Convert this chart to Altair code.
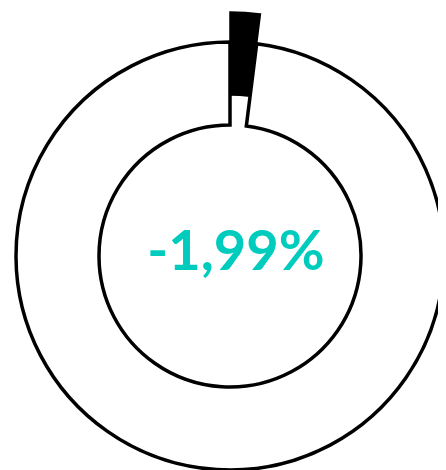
import altair as alt
import pandas as pd

# Data
labels = ["Variación", "Resto"]
values = [1.99, 98.01]
order_idx = [0, 1]
center_text = ["-1,99%"]

df = pd.DataFrame({"label": labels, "value": values, "idx": order_idx})
df_text = pd.DataFrame({"txt": center_text})

base = alt.Chart(df).encode(
    theta=alt.Theta("value:Q", stack=True),
    order=alt.Order("idx:Q"),
)

fill_enc = alt.Fill("label:N", scale=alt.Scale(domain=labels, range=["black", "white"]), legend=None)

white_slice = base.mark_arc(
    radius=214, radius2=131, stroke="black", strokeWidth=3.5, strokeJoin="miter"
).encode(
    fill=fill_enc,
    opacity=alt.Opacity("label:N", scale=alt.Scale(domain=labels, range=[0, 1]), legend=None),
)

black_slice = base.mark_arc(
    radius=244, radius2=161, stroke="black", strokeWidth=1.5, strokeJoin="miter"
).encode(
    fill=fill_enc,
    opacity=alt.Opacity("label:N", scale=alt.Scale(domain=labels, range=[1, 0]), legend=None),
)

label = alt.Chart(df_text).mark_text(
    font="Lato", fontWeight="bold", fontSize=56, color="#00CCBE",
    align="center", baseline="middle", dx=6, dy=-3
).encode(text="txt:N")

chart = alt.layer(white_slice, black_slice, label).resolve_scale(
    fill="independent", opacity="independent"
).properties(
    width=416, height=428,
    padding={"left": 14, "top": 34, "right": 0, "bottom": 0},
    autosize=alt.AutoSizeParams(type="none"),
).configure_view(stroke=None)

chart.save("out.html", embed_options={"renderer": "svg", "actions": False})
